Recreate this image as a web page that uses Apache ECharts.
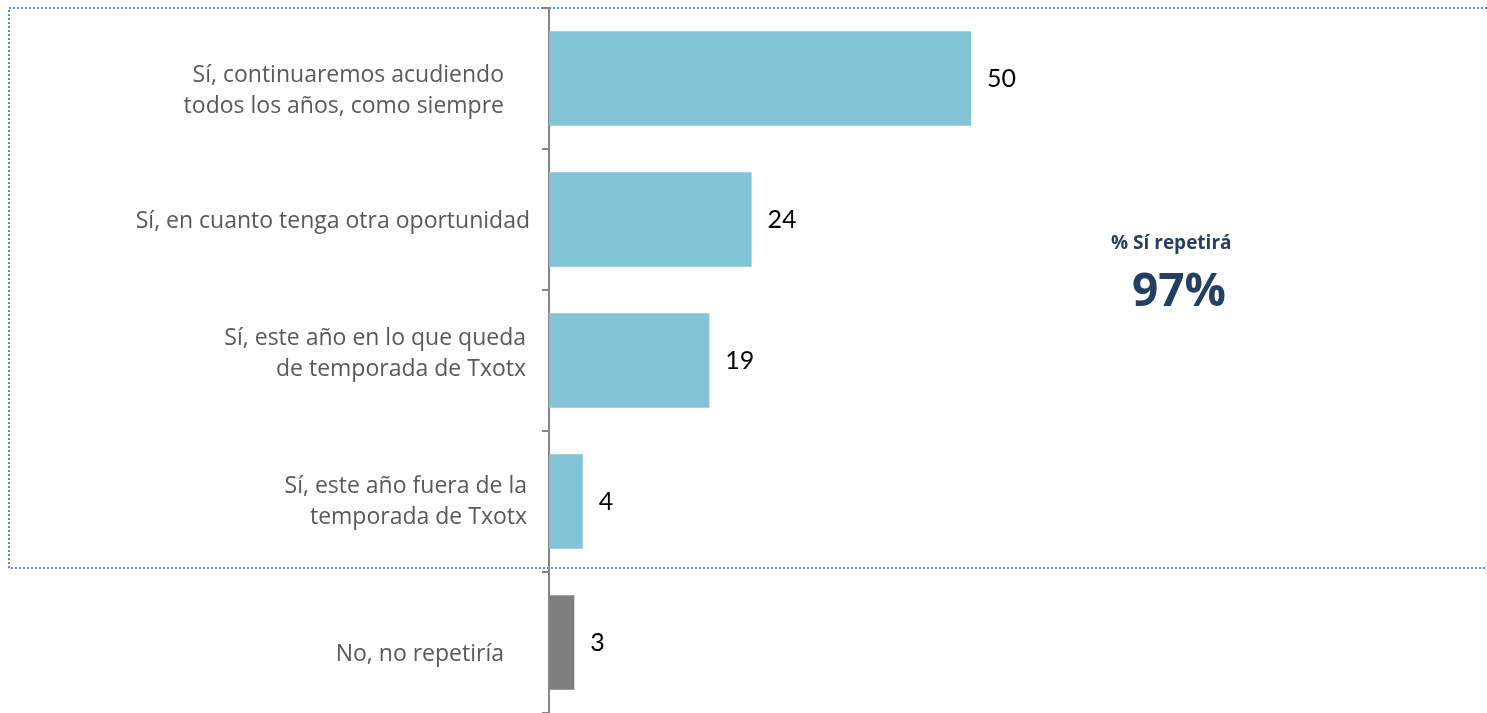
<!DOCTYPE html>
<html>
<head>
<meta charset="utf-8">
<script src="https://cdn.jsdelivr.net/npm/echarts@6/dist/echarts.min.js"></script>
<style>
	html, body { margin: 0; padding: 0; background: #ffffff; }
	#chart { width: 1487px; height: 713px; }
</style>
</head>
<body>
<div id="chart"></div>
<script>
// datos
const categories = [
	'Sí, continuaremos acudiendo\ntodos los años, como siempre',
	'Sí, en cuanto tenga otra oportunidad',
	'Sí, este año en lo que queda\nde temporada de Txotx',
	'Sí, este año fuera de la\ntemporada de Txotx',
	'No, no repetiría'
];
const values = [50, 24, 19, 4, 3];
const barColors = ['#82c3d5', '#82c3d5', '#82c3d5', '#82c3d5', '#7f7f7f'];
const labelPad = [45, 19, 23, 22, 45];   // separación del texto al eje
const labelShift = [12, 2, -7, 0, 12];   // desplazamiento vertical
const totalLabel = '% Sí repetirá';
const totalValue = '97%';

const chart = echarts.init(document.getElementById('chart'));

const rich = {};
labelPad.forEach(function (p, i) {
	rich['p' + i] = {
		fontFamily: 'Open Sans',
		fontSize: 23,
		color: '#595959',
		lineHeight: 31,
		padding: [0, p, 0, 0]
	};
	rich['s' + i] = {
		fontSize: 1,
		lineHeight: Math.max(Math.abs(labelShift[i]) * 2, 1)
	};
});

const option = {
	animation: false,
	grid: {
		left: 549,
		top: 8,
		width: 844,
		height: 708
	},
	xAxis: {
		type: 'value',
		min: 0,
		max: 100,
		show: false
	},
	yAxis: {
		type: 'category',
		inverse: true,
		data: categories,
		axisLine: {
			lineStyle: {
				color: '#868686',
				width: 2
			}
		},
		axisTick: {
			show: true,
			length: 7,
			lineStyle: {
				color: '#868686',
				width: 2
			}
		},
		axisLabel: {
			margin: 0,
			formatter: function (v, i) {
				let lines = v.split('\n').map(function (s) {
					return '{p' + i + '|' + s + '}';
				});
				if (labelShift[i] > 0) {
					lines.unshift('{s' + i + '| }');
				} else if (labelShift[i] < 0) {
					lines.push('{s' + i + '| }');
				}
				return lines.join('\n');
			},
			rich: rich
		},
		splitLine: { show: false }
	},
	series: [{
		type: 'bar',
		barCategoryGap: '33%',
		data: values.map(function (v, i) {
			return {
				value: v,
				itemStyle: { color: barColors[i] }
			};
		}),
		label: {
			show: true,
			position: 'right',
			distance: 16,
			fontFamily: 'Lato',
			fontSize: 25,
			color: '#000000'
		}
	}],
	graphic: [
		{
			type: 'rect',
			z: -1,
			shape: { x: 9, y: 8, width: 1500, height: 560 },
			style: {
				fill: 'none',
				stroke: '#5b8bd0',
				lineWidth: 2,
				lineDash: [2, 2]
			}
		},
		{
			type: 'text',
			left: 1111,
			top: 234,
			style: {
				text: totalLabel,
				fontFamily: 'Open Sans',
				fontWeight: 'bold',
				fontSize: 19,
				fill: '#243f60'
			}
		},
		{
			type: 'text',
			left: 1132,
			top: 270,
			style: {
				text: totalValue,
				fontFamily: 'Open Sans',
				fontWeight: 'bold',
				fontSize: 46,
				fill: '#243f60'
			}
		}
	]
};
chart.setOption(option);
</script>
</body>
</html>
